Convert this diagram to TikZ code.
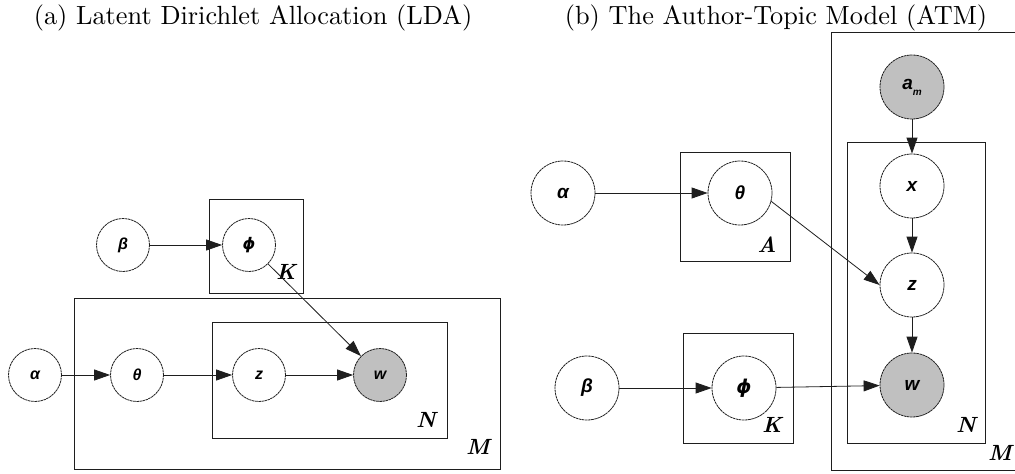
\documentclass[tikz,border=0pt]{standalone}
\usepackage{fontspec}
\newfontfamily\nodefont{Liberation Sans}
\newfontfamily\greekfont{DejaVu Sans}
\usetikzlibrary{arrows.meta}
\definecolor{obsgray}{RGB}{192,192,192}
\definecolor{linegray}{RGB}{30,30,30}
\begin{document}
\begin{tikzpicture}[x=1pt,y=-1pt,
  var/.style={circle, draw=linegray, dash pattern=on 2.5pt off 0.6pt, line width=0.8pt,
    minimum size=53pt, inner sep=0pt, font=\nodefont\bfseries\itshape\fontsize{16}{16}\selectfont},
  bigvar/.style={var, minimum size=64pt, font=\nodefont\bfseries\itshape\fontsize{19}{19}\selectfont},
  obs/.style={fill=obsgray},
  plate/.style={draw=linegray, line width=0.8pt},
  platelabel/.style={scale=2.2, inner sep=0pt, font=\bfseries\itshape},
  edge/.style={draw=linegray, line width=0.8pt, -{Triangle[length=16pt,width=11pt]}},
  title/.style={scale=2.63, anchor=base, inner sep=0pt}
]
\useasboundingbox (0,0) rectangle (1015,474);

% titles
\node[title] (ta) at (253,24.5) {(a) Latent Dirichlet Allocation (LDA)};
\node[title] (tb) at (776,24.5) {(b) The Author-Topic Model (ATM)};

% ---------- (a) LDA ----------
\draw[plate] (209,199) rectangle (303,293);
\draw[plate] (74,298) rectangle (500,469);
\draw[plate] (212,322) rectangle (447,438);
\node[platelabel] (lK) at (286,272) {K};
\node[platelabel] (lM) at (478,447) {M};
\node[platelabel] (lN) at (426,420) {N};

\node[var] (la) at (35,375) {α};
\node[var] (lth) at (137,375) {θ};
\node[var] (lz) at (259,375) {z};
\node[var,obs] (lw) at (380,375) {w};
\node[var] (lb) at (123,245) {β};
\node[var] (lph) at (249,245) {{\greekfont ϕ}};

\draw[edge] (la) -- (lth);
\draw[edge] (lth) -- (lz);
\draw[edge] (lz) -- (lw);
\draw[edge] (lb) -- (lph);
\draw[edge] (lph) -- (lw);

% ---------- (b) ATM ----------
\draw[plate] (831,32) rectangle (1018,470);
\draw[plate] (847,142) rectangle (985,443);
\draw[plate] (680,152) rectangle (790,261);
\draw[plate] (683,333) rectangle (793,443);
\node[platelabel] (rM) at (1000,453) {M};
\node[platelabel] (rN) at (966,425) {N};
\node[platelabel] (rA) at (767,245) {A};
\node[platelabel] (rK) at (772,425) {K};

\node[bigvar,obs] (ram) at (912,87) {a\raisebox{-6pt}{\fontsize{10}{10}\selectfont m}};
\node[bigvar] (rx) at (912,186) {x};
\node[bigvar] (rz) at (912,285) {z};
\node[bigvar,obs] (rw) at (912,385) {w};
\node[bigvar] (ra) at (563,193) {α};
\node[bigvar] (rth) at (740,193) {θ};
\node[bigvar] (rb) at (587,388) {β};
\node[bigvar] (rph) at (744,388) {{\greekfont ϕ}};

\draw[edge] (ram) -- (rx);
\draw[edge] (rx) -- (rz);
\draw[edge] (rz) -- (rw);
\draw[edge] (ra) -- (rth);
\draw[edge] (rth.-15) -- (rz.west);
\draw[edge] (rb) -- (rph);
\draw[edge] (rph) -- (rw);
\end{tikzpicture}
\end{document}
